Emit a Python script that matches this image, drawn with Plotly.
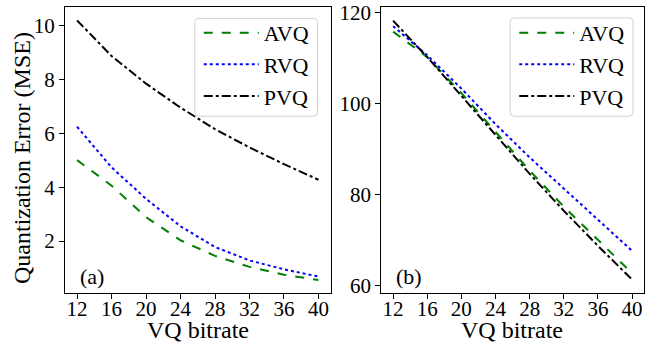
import plotly.graph_objects as go

bitrates = [12, 16, 20, 24, 28, 32, 36, 40]

# Panel (a)
avq_a = [5.01, 4.06, 2.89, 2.03, 1.45, 1.04, 0.75, 0.55]
rvq_a = [6.25, 4.74, 3.57, 2.55, 1.78, 1.28, 0.95, 0.68]
pvq_a = [10.2, 8.88, 7.85, 6.96, 6.16, 5.48, 4.86, 4.28]

# Panel (b)
avq_b = [115.8, 110.2, 102.3, 93.8, 85.3, 77.4, 70.1, 62.8]
rvq_b = [117.0, 110.6, 103.3, 95.5, 88.2, 81.3, 74.5, 67.7]
pvq_b = [118.2, 110.2, 101.7, 93.1, 84.6, 76.5, 68.8, 61.4]

series_names = ["AVQ", "RVQ", "PVQ"]
colors = ["#008000", "#0000ff", "#000000"]
dashes = ["dash", "dot", "dashdot"]

FONT = "Liberation Serif"
TICK_FS = 21
LEG_FS = 22
TITLE_FS = 24

W, H = 646, 345
ML, MR, MT, MB = 65, 1, 5, 52
PW, PH = W - ML - MR, H - MT - MB

fig = go.Figure()

for name, vals, c, d in zip(series_names, [avq_a, rvq_a, pvq_a], colors, dashes):
    fig.add_trace(go.Scatter(x=bitrates, y=vals, mode="lines", name=name,
                             line=dict(color=c, dash=d, width=2),
                             legendgroup="a" + name,
                             xaxis="x", yaxis="y", legend="legend"))
for name, vals, c, d in zip(series_names, [avq_b, rvq_b, pvq_b], colors, dashes):
    fig.add_trace(go.Scatter(x=bitrates, y=vals, mode="lines", name=name,
                             line=dict(color=c, dash=d, width=2),
                             legendgroup="b" + name,
                             xaxis="x2", yaxis="y2", legend="legend2"))

axis_common = dict(showline=True, mirror=True, linecolor="black", linewidth=1,
                   ticks="outside", ticklen=5, tickwidth=1, tickcolor="black",
                   showgrid=False, zeroline=False, ticklabeloverflow="allow",
                   tickfont=dict(family=FONT, size=TICK_FS, color="black"))


def px2fx(px):
    return (px - ML) / PW


def py2fy(py):
    return 1 - (py - MT) / PH


def rounded_box(x0, y0, x1, y1, r=4):
    X = lambda v: f"{px2fx(v):.5f}"
    Y = lambda v: f"{py2fy(v):.5f}"
    return (f"M{X(x0 + r)},{Y(y0)} L{X(x1 - r)},{Y(y0)} Q{X(x1)},{Y(y0)} {X(x1)},{Y(y0 + r)} "
            f"L{X(x1)},{Y(y1 - r)} Q{X(x1)},{Y(y1)} {X(x1 - r)},{Y(y1)} "
            f"L{X(x0 + r)},{Y(y1)} Q{X(x0)},{Y(y1)} {X(x0)},{Y(y1 - r)} "
            f"L{X(x0)},{Y(y0 + r)} Q{X(x0)},{Y(y0)} {X(x0 + r)},{Y(y0)} Z")


left_end = px2fx(331)
right_start = px2fx(381.7)

legend_common = dict(xanchor="left", yanchor="top", bgcolor="rgba(0,0,0,0)", borderwidth=0,
                     font=dict(family=FONT, size=LEG_FS, color="black"),
                     itemwidth=55, tracegroupgap=0)

fig.update_layout(
    width=W, height=H,
    margin=dict(l=ML, r=MR, t=MT, b=MB),
    paper_bgcolor="white", plot_bgcolor="white",
    font=dict(family=FONT, size=TICK_FS, color="black"),
    xaxis=dict(domain=[0, left_end], range=[10.6, 41.4], tickvals=bitrates,
               ticklabelstandoff=-8, **axis_common),
    yaxis=dict(range=[0.07, 10.7], tickvals=[2, 4, 6, 8, 10], anchor="x", **axis_common),
    xaxis2=dict(domain=[right_start, 1], range=[10.6, 41.4], tickvals=bitrates,
                ticklabelstandoff=-8, anchor="y2", **axis_common),
    yaxis2=dict(range=[58.45, 121.2], tickvals=[60, 80, 100, 120], anchor="x2", **axis_common),
    legend=dict(x=px2fx(199), y=py2fy(10), **legend_common),
    legend2=dict(x=px2fx(515), y=py2fy(10), **legend_common),
    shapes=[
        dict(type="path", xref="paper", yref="paper", path=rounded_box(195, 16.5, 318, 115),
             line=dict(color="#d0d0d0", width=1), fillcolor="rgba(255,255,255,0.8)", layer="above"),
        dict(type="path", xref="paper", yref="paper", path=rounded_box(511, 16, 634, 115),
             line=dict(color="#d0d0d0", width=1), fillcolor="rgba(255,255,255,0.8)", layer="above"),
    ],
    annotations=[
        dict(text="(a)", x=12.1, y=0.07, xref="x", yref="y", showarrow=False,
             xanchor="left", yanchor="bottom", yshift=2, font=dict(family=FONT, size=LEG_FS)),
        dict(text="(b)", x=12.1, y=58.45, xref="x2", yref="y2", showarrow=False,
             xanchor="left", yanchor="bottom", yshift=2, font=dict(family=FONT, size=LEG_FS)),
        # axis titles
        dict(text="Quantization Error (MSE)", x=px2fx(22), y=py2fy(157), xref="paper", yref="paper",
             textangle=-90, showarrow=False, xanchor="center", yanchor="middle",
             font=dict(family=FONT, size=TITLE_FS)),
        dict(text="VQ bitrate", x=px2fx(198), y=py2fy(330), xref="paper", yref="paper",
             showarrow=False, xanchor="center", yanchor="middle",
             font=dict(family=FONT, size=TITLE_FS)),
        dict(text="VQ bitrate", x=px2fx(513), y=py2fy(330), xref="paper", yref="paper",
             showarrow=False, xanchor="center", yanchor="middle",
             font=dict(family=FONT, size=TITLE_FS)),
    ],
)

fig.write_html("out.html", config={"displayModeBar": False},
               post_script="document.body.style.margin='0';document.body.style.overflow='hidden';")
